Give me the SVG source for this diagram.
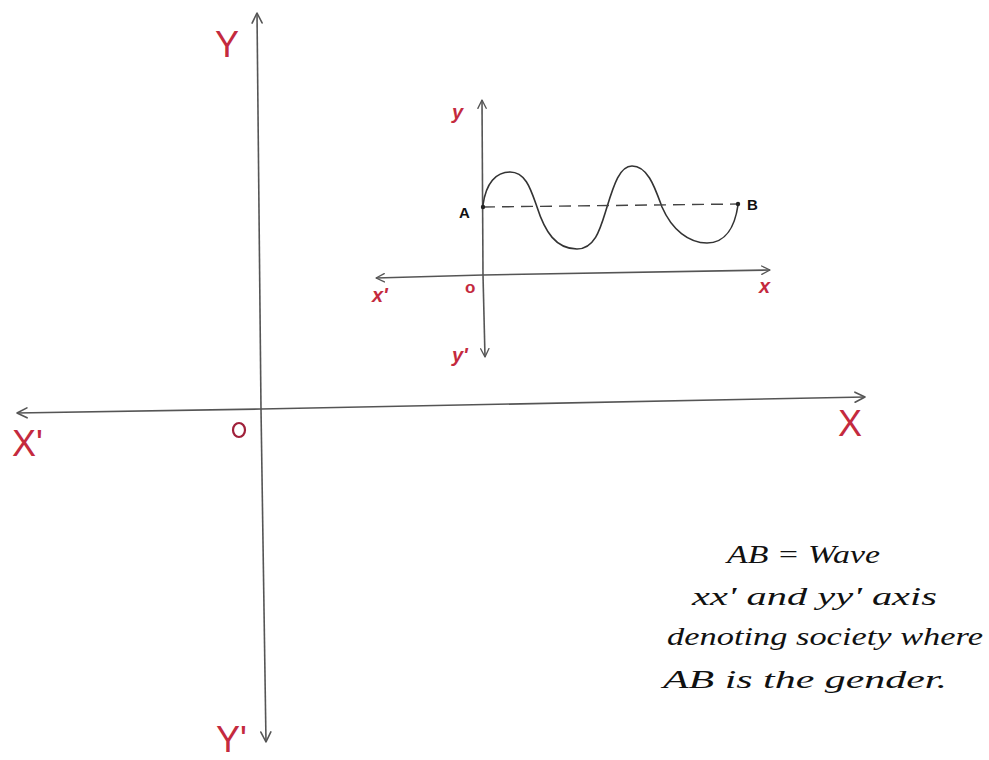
<svg xmlns="http://www.w3.org/2000/svg" width="989" height="760" viewBox="0 0 989 760">
<defs>
<marker id="arr" viewBox="0 0 12 12" refX="11" refY="6" markerWidth="12" markerHeight="12" markerUnits="userSpaceOnUse" orient="auto">
<path d="M1,1 L11,6 L1,11" fill="none" stroke="#555" stroke-width="1.6" stroke-linecap="round" stroke-linejoin="round"/>
</marker>
<marker id="arrs" viewBox="0 0 12 12" refX="11" refY="6" markerWidth="10" markerHeight="10" markerUnits="userSpaceOnUse" orient="auto">
<path d="M1,1 L11,6 L1,11" fill="none" stroke="#555" stroke-width="1.6" stroke-linecap="round" stroke-linejoin="round"/>
</marker>
</defs>
<style>
.axis{stroke:#555;stroke-width:1.6;fill:none}
.red{fill:#c42a3e;font-family:"Liberation Sans",sans-serif}
.big{font-size:36px}
.sm{font-size:20px;font-style:italic;font-weight:bold}
.note{fill:#111;font-family:"Liberation Serif",serif;font-style:italic;font-size:25px}
.pt{fill:#111;font-family:"Liberation Sans",sans-serif;font-weight:bold;font-size:15px}
</style>
<rect width="989" height="760" fill="#fff"/>

<g id="main-axes">
<line class="axis" x1="261" y1="409" x2="257" y2="13" marker-end="url(#arr)"/>
<line class="axis" x1="261" y1="409" x2="266" y2="742" marker-end="url(#arr)"/>
<line class="axis" x1="261" y1="409" x2="17" y2="413" marker-end="url(#arr)"/>
<line class="axis" x1="261" y1="409" x2="865" y2="397" marker-end="url(#arr)"/>
</g>
<g id="main-labels">
<text class="red big" x="215" y="57">Y</text>
<text class="red big" x="12" y="456">X'</text>
<ellipse cx="239" cy="430" rx="6" ry="7" fill="none" stroke="#a0203a" stroke-width="2.2"/>
<text class="red big" x="838" y="436">X</text>
<text class="red big" x="216" y="752">Y'</text>
</g>

<g id="inner-axes">
<line class="axis" x1="483" y1="275" x2="482" y2="100" marker-end="url(#arrs)"/>
<line class="axis" x1="483" y1="275" x2="485" y2="357" marker-end="url(#arrs)"/>
<line class="axis" x1="483" y1="275" x2="376" y2="278" marker-end="url(#arrs)"/>
<line class="axis" x1="483" y1="275" x2="770" y2="270" marker-end="url(#arrs)"/>
</g>
<g id="inner-labels">
<text class="red sm" x="452" y="119">y</text>
<text class="red sm" x="372" y="302">x'</text>
<text class="red" x="465" y="293" font-size="17" font-weight="bold">o</text>
<text class="red sm" x="759" y="293">x</text>
<text class="red sm" x="452" y="362">y'</text>
</g>

<g id="wave">
<path d="M483,205 C486,183 496,172 510,172 C526,172 531,190 537,207 C545,232 556,249 577,249 C596,249 601,226 607,207 C614,184 620,166 632,166 C648,166 655,188 662,207 C672,230 689,243 707,243 C726,243 735,226 738,205" fill="none" stroke="#333" stroke-width="1.6"/>
<line x1="483" y1="207" x2="738" y2="204" stroke="#444" stroke-width="1.4" stroke-dasharray="12,7"/>
<circle cx="483" cy="207" r="2.2" fill="#222"/>
<circle cx="738" cy="204" r="2.2" fill="#222"/>
<text class="pt" x="459" y="218">A</text>
<text class="pt" x="747" y="210">B</text>
</g>

<g id="note">
<text class="note" x="727" y="563" textLength="153" lengthAdjust="spacingAndGlyphs">AB = Wave</text>
<text class="note" x="692" y="605" textLength="245" lengthAdjust="spacingAndGlyphs">xx' and yy' axis</text>
<text class="note" x="667" y="645" textLength="316" lengthAdjust="spacingAndGlyphs">denoting society where</text>
<text class="note" x="663" y="688" textLength="284" lengthAdjust="spacingAndGlyphs">AB is the gender.</text>
</g>
</svg>
